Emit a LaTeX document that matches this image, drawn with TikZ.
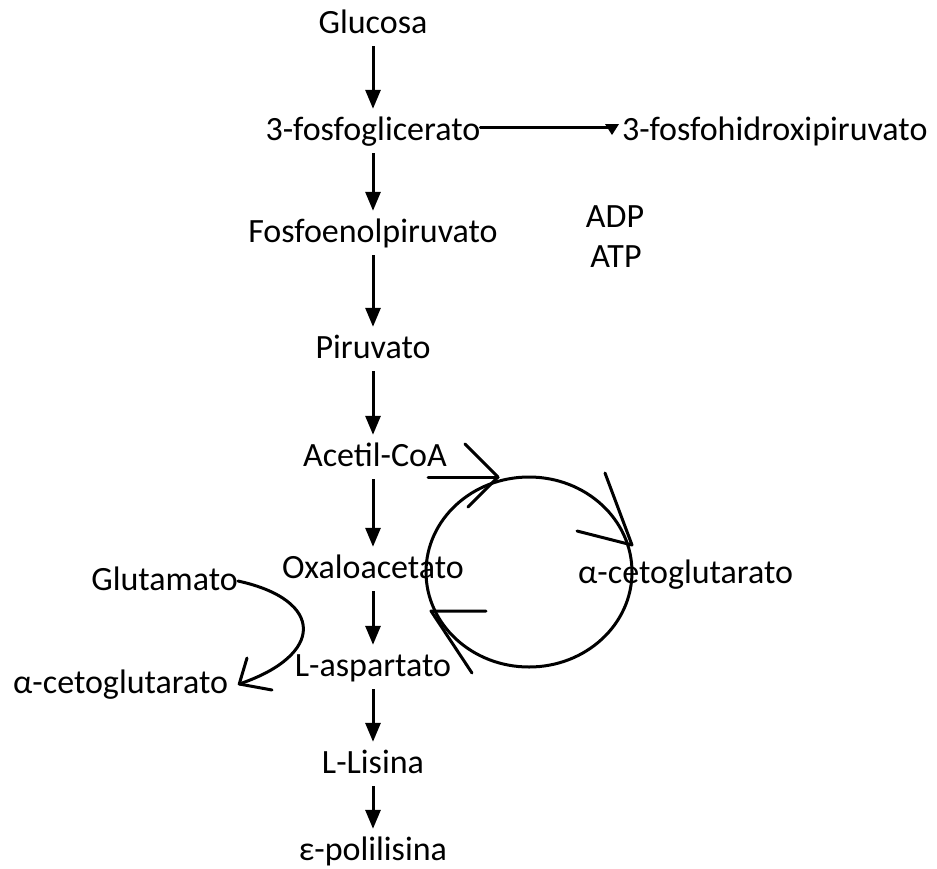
\documentclass[tikz,border=0pt]{standalone}
\usepackage{fontspec}
\setmainfont{Carlito}
\usetikzlibrary{arrows.meta,calc}

\begin{document}
\begin{tikzpicture}[x=1pt,y=-1pt,
  metab/.style={font=\fontsize{34}{40}\selectfont,inner xsep=0pt,inner ysep=6pt,
    text height=25pt,text depth=7pt,anchor=base},
  arr/.style={-{Triangle[width=15pt,length=19pt]},line width=3pt},
  hand/.style={line width=3pt,line cap=round,line join=round}
]
  \useasboundingbox (0,0) rectangle (937,868);
  % Main pathway
  \node[metab] (glu) at (373,33) {Glucosa};
  \node[metab] (fgl) at (373,140) {3-fosfoglicerato};
  \node[metab] (pep) at (373,242) {Fosfoenolpiruvato};
  \node[metab] (pir) at (373,358) {Piruvato};
  \node[metab] (acc) at (375,466) {Acetil-CoA};
  \node[metab] (oxa) at (373,578) {Oxaloacetato};
  \node[metab] (asp) at (373,676) {L-aspartato};
  \node[metab] (lis) at (373,773) {L-Lisina};
  \node[metab] (eps) at (373,860) {ε-polilisina};
  % Side products
  \node[metab,anchor=base west] (fhp) at (622,140) {3-fosfohidroxipiruvato};
  \node[metab] (adp) at (615,227) {ADP};
  \node[metab] (atp) at (616,267) {ATP};
  \node[metab,anchor=base east] (glm) at (238,590) {Glutamato};
  \node[metab,anchor=base west] (akgl) at (13,693) {α-cetoglutarato};
  \node[metab,anchor=base west] (akgr) at (578,583) {α-cetoglutarato};
  % Arrows
  \draw[arr] (glu) -- (fgl);
  \draw[arr] (fgl) -- (pep);
  \draw[arr] (pep) -- (pir);
  \draw[arr] (pir) -- (acc.north -| pir.south);
  \draw[arr] (acc.south -| pir.south) -- (oxa);
  \draw[arr] (oxa) -- (asp);
  \draw[arr] (asp) -- (lis);
  \draw[arr] (lis) -- (eps);
  % Branch to 3-fosfohidroxipiruvato
  \draw[hand] ([yshift=4pt]fgl.east) -- ([xshift=-10pt,yshift=4pt]fhp.west);
  \fill ([xshift=-17pt,yshift=7pt]fhp.west) -- ([xshift=-3pt,yshift=7pt]fhp.west)
    -- ([xshift=-10pt,yshift=-4pt]fhp.west) -- cycle;
  % Krebs cycle
  \draw[hand] (529,572) ellipse [x radius=103pt,y radius=95pt];
  \coordinate (accin) at (428,477);
  \coordinate (cycin) at (498,477);
  \draw[hand] (accin) -- (cycin);
  \draw[hand] (465,444) -- (cycin) -- (468,507);
  \draw[hand] (605,473) -- (632,545) -- (577,531);
  \draw[hand] (486,611) -- (431,611) -- (472,673);
  % Transamination
  \coordinate (akgin) at ([xshift=11pt]akgl.east);
  \draw[hand] (glm.east) .. controls (325,600) and (325,655) .. (akgin);
  \draw[hand] (247,658) -- (akgin) -- (272,690);
\end{tikzpicture}
\end{document}
